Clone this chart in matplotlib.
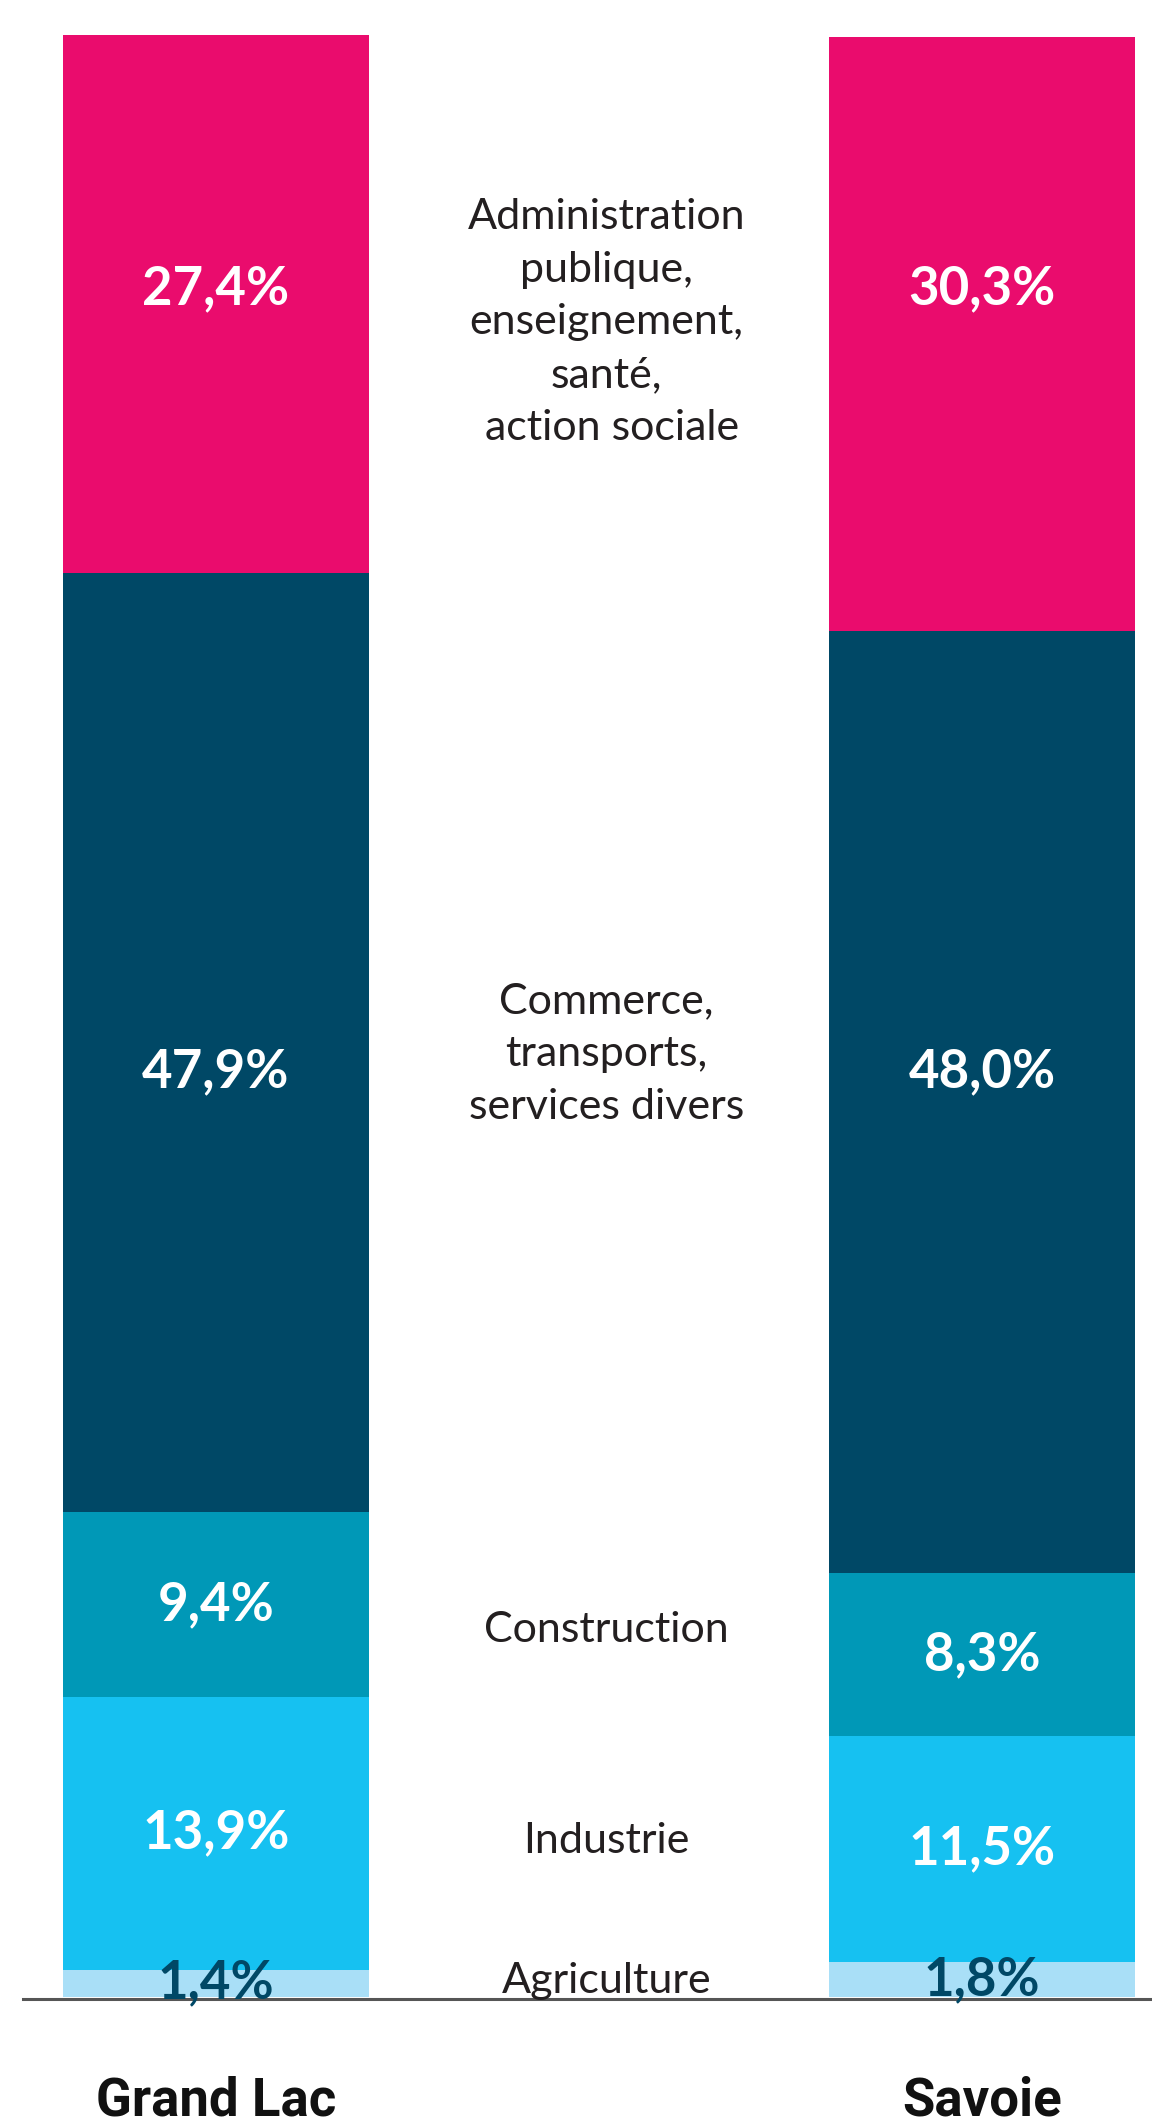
import numpy as np
import matplotlib
matplotlib.use('Agg')
import matplotlib.pyplot as plt

# Data (bottom to top)
territories = ['Grand Lac', 'Savoie']
sectors = ['Agriculture', 'Industrie', 'Construction',
           'Commerce,\ntransports,\nservices divers',
           'Administration\npublique,\nenseignement,\nsanté,\n action sociale']
grand_lac = [1.4, 13.9, 9.4, 47.9, 27.4]
savoie = [1.8, 11.5, 8.3, 48.0, 30.3]

colors = ['#a9dff7', '#16c1f1', '#0098b7', '#004866', '#ea0c6d']
text_colors = ['#004866', 'white', 'white', 'white', 'white']
# small vertical tweaks (data units) for the labels
value_nudge = [0, 0, 0, 0, 0.8]
name_nudge = [0, 0, 0, 0.9, -0.9]

fig = plt.figure(figsize=(11.52, 21.24), dpi=100)
ax = fig.add_axes([0, 1 - 1997 / 2124, 1, (1997 - 35) / 2124])

x = np.arange(len(territories))
values = np.array([grand_lac, savoie])
bottoms = np.zeros(len(territories))
for i, sector in enumerate(sectors):
    v = values[:, i]
    tops = bottoms + v
    ax.bar(x, v, bottom=bottoms, width=0.40, color=colors[i], linewidth=0)
    mid = bottoms + v / 2
    if v.min() > 20:
        # tall segments: labels aligned on the shared part of both bars
        shared = (bottoms.max() + tops.min()) / 2
        mid = np.full(len(territories), shared)
        name_y = shared
    else:
        name_y = mid.mean()
    for j in range(len(territories)):
        label = f"{v[j]:.1f}".replace('.', ',') + '%'
        ax.text(x[j], mid[j] + value_nudge[i], label, ha='center', va='center',
                color=text_colors[i], fontsize=38, fontweight='bold',
                family='Lato', clip_on=False)
    # sector name between the two bars
    ax.text(0.51, name_y + name_nudge[i], sector, ha='center', va='center',
            color='#231f20', fontsize=31, fontweight='normal',
            family='Lato', linespacing=1.48)
    bottoms = tops

for j, name in enumerate(territories):
    ax.text(x[j], -5.3, name, ha='center', va='center', fontsize=38,
            fontweight='bold', family='Roboto',
            color='#111111', clip_on=False)

ax.axhline(-0.1, xmin=23 / 1152, xmax=1, color='#555555', linewidth=2.2,
           clip_on=False)

ax.set_xlim(-216 / 766, (1152 - 216) / 766)
ax.set_ylim(0, 100)
ax.axis('off')

fig.savefig('out.png', dpi=100)
